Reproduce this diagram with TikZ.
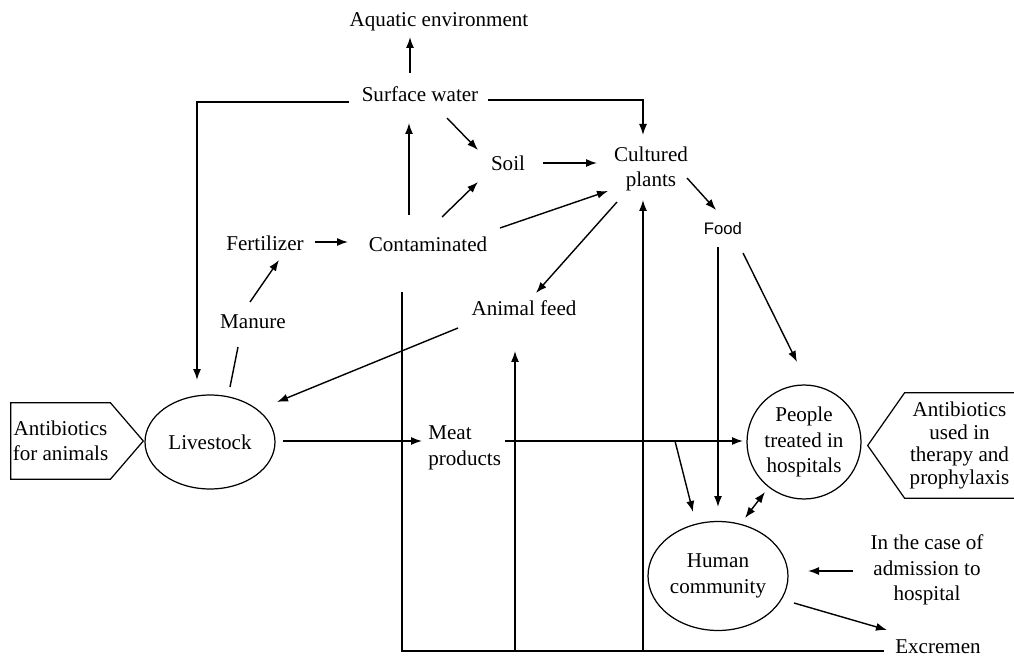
\documentclass[tikz,border=0pt]{standalone}
\usepackage{fontspec}
\setmainfont{Liberation Serif}
\newfontfamily\foodfont{Liberation Sans}
\usetikzlibrary{arrows.meta,shapes.geometric}

\tikzset{
  arr/.style={-{Latex[length=2.2mm,width=1.6mm]},line width=0.8pt},
  arrboth/.style={{Latex[length=2.2mm,width=1.6mm]}-{Latex[length=2.2mm,width=1.6mm]},line width=0.8pt},
  wire/.style={line width=0.8pt},
  oval/.style={draw,ellipse,line width=0.7pt,inner sep=0pt},
  tag/.style={line width=0.7pt}
}

\begin{document}
\begin{tikzpicture}[x=0.02cm,y=-0.02cm,
  font=\fontsize{12}{14.5}\selectfont,
  every node/.style={inner sep=1pt,align=center}]
  \useasboundingbox (0,0) rectangle (1014,658);

  % nodes
  \node (aqua) at (439,22) {Aquatic environment};
  \node (surf) at (420,94) {Surface water};
  \node (soil) at (508,163) {Soil};
  \node (plants) at (651,169) {Cultured\\plants};
  \node[font=\foodfont\fontsize{9.5}{11}\selectfont] (food) at (723,229) {Food};
  \node (fert) at (265,243) {Fertilizer};
  \node (cont) at (428,244) {Contaminated};
  \node (manure) at (253,322) {Manure};
  \node (feed) at (524,308) {Animal feed};
  \node[oval,minimum width=2.6cm,minimum height=1.88cm] (live) at (210,442) {Livestock};
  \node[minimum width=1.94cm,minimum height=1.52cm] (abanim) at (60.5,441) {Antibiotics\\for animals};
  \node[anchor=west,inner sep=0pt,align=left] (meat) at (428,448) {Meat\\products};
  \node[draw,circle,line width=0.7pt,minimum size=2.28cm,inner sep=0pt] (people) at (804,442) {People\\treated in\\hospitals};
  \node[minimum width=2.18cm,minimum height=2.1cm,font=\fontsize{12}{13}\selectfont] (abther) at (959.5,445.5) {Antibiotics\\used in\\therapy and\\prophylaxis};
  \node[oval,minimum width=2.8cm,minimum height=2.18cm] (human) at (718,576) {Human\\community};
  \node (admit) at (927,570) {In the case of\\admission to\\hospital};
  \node (excr) at (938,647) {Excremen};

  % tag outlines
  \draw[tag] (abanim.north west) -- (abanim.north east) -- ([xshift=0.66cm]abanim.east)
    -- (abanim.south east) -- (abanim.south west) -- cycle;
  \draw[tag] (abther.north east) -- (abther.north west) -- ([xshift=-0.74cm]abther.west)
    -- (abther.south west) -- (abther.south east);

  % water and soil
  \draw[arr] ([shift={(-10,-21)}]surf.center) -- ([shift={(-29,15)}]aqua.center);
  \draw[arr] ([shift={(-71,8)}]surf.center) -| ([shift={(-13,-62)}]live.center);
  \draw[arr] ([shift={(68,6)}]surf.center) -| ([shift={(-8,-34)}]plants.center);
  \draw[arr] ([shift={(27,24)}]surf.center) -- ([shift={(-30,-13)}]soil.center);
  \draw[arr] ([shift={(-19,-29)}]cont.center) -- ([shift={(-11,29)}]surf.center);
  \draw[arr] ([shift={(14,-27)}]cont.center) -- ([shift={(-30,19)}]soil.center);
  \draw[arr] ([shift={(72,-16)}]cont.center) -- ([shift={(-43,22)}]plants.center);
  \draw[arr] ([shift={(35,0)}]soil.center) -- ([shift={(-54,-6)}]plants.center);

  % plants and food
  \draw[arr] ([shift={(-34,33)}]plants.center) -- ([shift={(12,-15)}]feed.center);
  \draw[arr] ([shift={(36,9)}]plants.center) -- ([shift={(-7,-19)}]food.center);
  \draw[arr] ([shift={(20,24)}]food.center) -- ([shift={(-7,-80)}]people.center);
  \draw[arr] ([shift={(-5,18)}]food.center) -- ([shift={(0,-69)}]human.center);

  % livestock
  \draw[arr] ([shift={(50,-1)}]fert.center) -- ([shift={(-80,-2)}]cont.center);
  \draw[arr] ([shift={(-3,-20)}]manure.center) -- ([shift={(14,17)}]fert.center);
  \draw[wire] ([shift={(20,-55)}]live.center) -- ([shift={(-15,25)}]manure.center);
  \draw[arr] ([shift={(-66,20)}]feed.center) -- ([shift={(67,-40)}]live.center);
  \draw[arr] ([shift={(73,-1)}]live.center) -- ([shift={(-6,-7)}]meat.west);
  \draw[arr] ([shift={(77,-7)}]meat.west) -- ([shift={(-61,-1)}]people.center);

  % people
  \coordinate (split) at ([shift={(-129,-1)}]people.center);
  \draw[arr] (split) -- ([shift={(-25,-64)}]human.center);
  \draw[arrboth] ([shift={(-39,50)}]people.center) -- ([shift={(27,-58)}]human.center);
  \draw[arr] ([shift={(-74,1)}]admit.center) -- ([shift={(90,-5)}]human.center);
  \draw[arr] ([shift={(76,27)}]human.center) -- ([shift={(-51,-17)}]excr.center);

  % excrement loop
  \coordinate (botL) at ([shift={(-26,48)}]cont.center);
  \coordinate (botR) at ([shift={(-54,4)}]excr.center);
  \coordinate (feedIn) at ([shift={(-9,43)}]feed.center);
  \coordinate (plantsIn) at ([shift={(-8,31)}]plants.center);
  \draw[wire] (botL) |- (botR);
  \draw[arr] (feedIn |- botR) -- (feedIn);
  \draw[arr] (plantsIn |- botR) -- (plantsIn);
\end{tikzpicture}
\end{document}
